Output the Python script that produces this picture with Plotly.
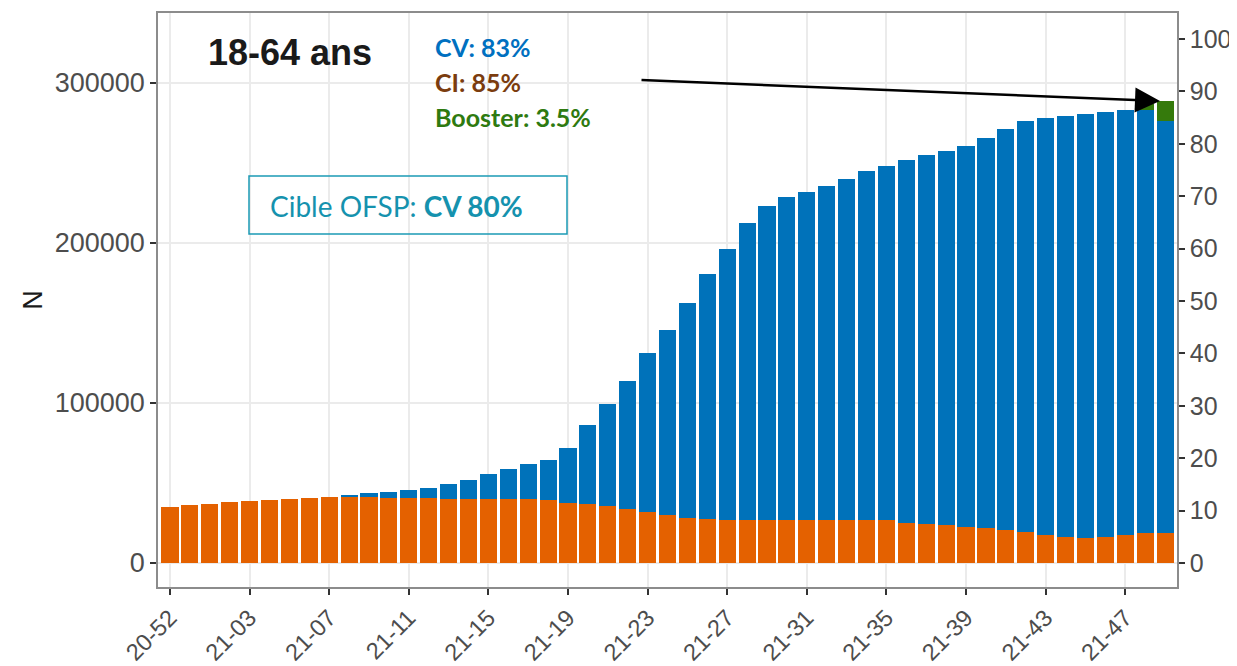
import plotly.graph_objects as go

weeks = ["20-52", "20-53"] + [f"21-{i:02d}" for i in range(1, 50)]

# stacked segments (number of people)
orange_vals = [35200, 36000, 37000, 38000, 38500, 39200, 39800, 40500, 41000, 41300,
               41000, 40800, 40600, 40500, 40300, 40200, 40100, 40000, 39800, 39300,
               37700, 36700, 35600, 34000, 32000, 30000, 28300, 27500, 27000, 26900,
               26900, 26900, 26900, 26900, 26900, 26900, 26800, 25200, 24200, 23700,
               22700, 21700, 20600, 19600, 17500, 16000, 15500, 16500, 17500, 18500,
               19000]
blue_vals = [0, 0, 0, 0, 0, 0, 0, 0, 0, 1000,
             2700, 3600, 5000, 6600, 9300, 11900, 15300, 18600, 21900, 25300,
             34000, 49500, 63800, 79800, 99400, 115600, 134400, 152900, 169000, 185800,
             196100, 202100, 205200, 208700, 213300, 217900, 221300, 226700, 230800, 233600,
             237900, 243700, 250900, 256900, 260400, 263400, 264900, 265200, 265800, 264600,
             257400]
green_vals = [0] * 49 + [3800, 12600]

left_ticks = [0, 100000, 200000, 300000]
right_ticks = list(range(0, 101, 10))
x_ticks = weeks[::4]

C_OR = "#E46100"
C_BL = "#0072BA"
C_GR = "#357A0C"

fig = go.Figure()
fig.add_bar(x=weeks, y=orange_vals, marker=dict(color=C_OR, line=dict(width=0)), showlegend=False)
fig.add_bar(x=weeks, y=blue_vals, marker=dict(color=C_BL, line=dict(width=0)), showlegend=False)
fig.add_bar(x=weeks, y=green_vals, marker=dict(color=C_GR, line=dict(width=0)), showlegend=False)
# invisible trace for the right (percent) axis
fig.add_scatter(x=[weeks[0]], y=[0], yaxis="y2", mode="markers",
                marker=dict(opacity=0), hoverinfo="skip", showlegend=False)

# page offset of the figure (body margin)
OFF = 8
L, R, T, B = 158, 1177, 13, 587   # plot panel in page pixels
W, H = 1237 - OFF, 666 - OFF
def px(x):
    return (x - L) / (R - L)
def py(y):
    return (B - y) / (B - T)

fam = "Liberation Sans, Arial, sans-serif"
lefttickfont = dict(family=fam, size=27, color="#4D4D4D")
righttickfont = dict(family=fam, size=25, color="#4D4D4D")
xtickfont = dict(family=fam, size=23.5, color="#4D4D4D")
fig.update_layout(
    width=W, height=H,
    barmode="stack", bargap=0.14,
    plot_bgcolor="white", paper_bgcolor="white",
    margin=dict(l=L - OFF, r=W - (R - OFF), t=T - OFF, b=H - (B - OFF), autoexpand=False),
    xaxis=dict(type="category", range=[-0.6, 50.6], tickmode="array",
               tickvals=x_ticks, ticktext=x_ticks, tickangle=-45,
               tickfont=xtickfont, showgrid=True, gridcolor="#EBEBEB", gridwidth=1.5,
               showline=True, linecolor="#8C8C8C", linewidth=1.5, mirror=True,
               ticks="outside", ticklen=6, tickwidth=2, tickcolor="#333333", zeroline=False),
    yaxis=dict(range=[-15000, 343750], tickmode="array", tickvals=left_ticks,
               ticktext=[str(v) for v in left_ticks], tickfont=lefttickfont,
               showgrid=True, gridcolor="#EBEBEB", gridwidth=1.5, zeroline=False,
               showline=True, linecolor="#8C8C8C", linewidth=1.5, mirror=True,
               ticks="outside", ticklen=6, tickwidth=2, tickcolor="#333333",
               title=dict(text="N", font=dict(family=fam, size=27, color="#1A1A1A"),
                          standoff=4)),
    yaxis2=dict(overlaying="y", side="right", range=[-4.58, 104.96], tickmode="array",
                tickvals=right_ticks, tickfont=righttickfont, showgrid=False, zeroline=False,
                showline=True, linecolor="#8C8C8C", linewidth=1.5,
                ticks="outside", ticklen=6, tickwidth=2, tickcolor="#333333"),
)

ann_font = "Lato, Open Sans, sans-serif"
def label(x, y, text, size, color, family=ann_font, xanchor="left"):
    fig.add_annotation(xref="paper", yref="paper", x=px(x), y=py(y), xanchor=xanchor,
                       yanchor="middle", text=text, showarrow=False,
                       font=dict(family=family, size=size, color=color))

label(290, 52, "<b>18-64 ans</b>", 36, "#1A1A1A", family=fam, xanchor="center")
label(433, 47, "<b>CV: 83%</b>", 25, "#0070C0")
label(433, 82, "<b>CI: 85%</b>", 25, "#7B3C0E")
label(433, 117, "<b>Booster: 3.5%</b>", 25, "#2E7A10")

fig.add_shape(type="rect", xref="paper", yref="paper", x0=px(249), x1=px(567), y0=py(234), y1=py(176),
              line=dict(color="#1B9AB5", width=1.5), fillcolor="rgba(255,255,255,0)")
label(268, 206, "Cible OFSP: <b>CV 80%</b>", 28, "#1592AE")

fig.add_annotation(xref="paper", yref="paper", x=px(1160), y=py(101), text="",
                   showarrow=True, ax=640 - 1160, ay=80 - 101, arrowhead=2, arrowsize=2,
                   arrowwidth=2.5, arrowcolor="black")

fig.write_html("out.html")
